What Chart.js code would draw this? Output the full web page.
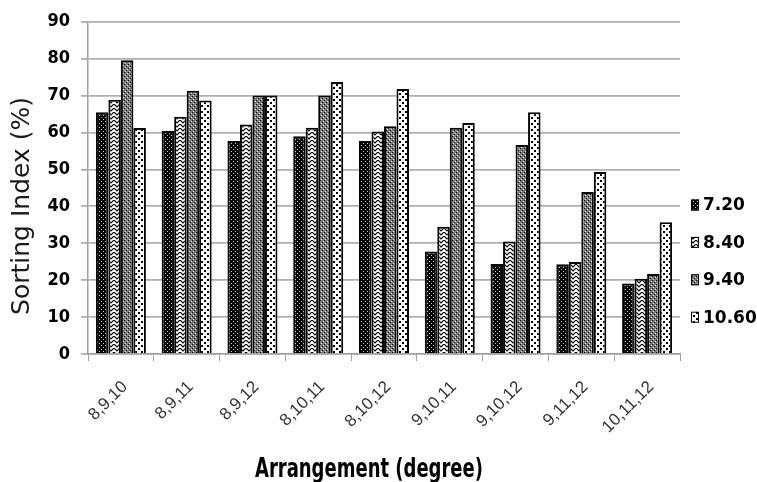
<!DOCTYPE html>
<html>
<head>
<meta charset="utf-8">
<script src="https://cdn.jsdelivr.net/npm/chart.js@4/dist/chart.umd.min.js"></script>
<style>
  body { margin: 0; background: #fff; }
  #wrap { width: 757px; height: 482px; }
</style>
</head>
<body>
<div id="wrap"><canvas id="myChart" width="757" height="482"></canvas></div>
<script>
    // values
    const categories = ['8,9,10', '8,9,11', '8,9,12', '8,10,11', '8,10,12', '9,10,11', '9,10,12', '9,11,12', '10,11,12']
    const seriesNames = ['7.20', '8.40', '9.40', '10.60']
    const s720 = [65.5, 60.4, 57.7, 59.0, 57.7, 27.8, 24.4, 24.3, 19.1]
    const s840 = [68.9, 64.3, 62.2, 61.3, 60.3, 34.5, 30.5, 24.9, 20.4]
    const s940 = [79.6, 71.3, 70.0, 70.0, 61.7, 61.3, 56.6, 43.9, 21.7]
    const s1060 = [61.2, 68.7, 70.0, 73.7, 71.8, 62.6, 65.5, 49.3, 35.7]
    const yTicks = [0, 10, 20, 30, 40, 50, 60, 70, 80, 90]
    const yTitle = 'Sorting Index (%)'
    const xTitle = 'Arrangement (degree)'

    // hatch fills like the old excel patterns
    function makePattern(w, h, draw) {
      let c = document.createElement('canvas')
      c.width = w
      c.height = h
      let g = c.getContext('2d')
      draw(g)
      return g.createPattern(c, 'repeat')
    }

    const PATTERNS = [
      // dark with small light dots
      makePattern(4, 4, g => {
        g.fillStyle = '#000'; g.fillRect(0, 0, 4, 4)
        g.fillStyle = '#d0d0d0'; g.fillRect(1, 1, 1, 1); g.fillRect(3, 3, 1, 1)
      }),
      // white with zigzag
      makePattern(6, 4, g => {
        g.fillStyle = '#fff'; g.fillRect(0, 0, 6, 4)
        g.strokeStyle = '#000'; g.lineWidth = 1.2
        g.beginPath(); g.moveTo(0, 0); g.lineTo(3, 3); g.lineTo(6, 0); g.stroke()
      }),
      // grey diamonds
      makePattern(4, 4, g => {
        g.fillStyle = '#7a7a7a'; g.fillRect(0, 0, 4, 4)
        g.fillStyle = '#000'; g.fillRect(0, 0, 1, 1); g.fillRect(2, 2, 1, 1)
        g.fillStyle = '#e0e0e0'; g.fillRect(1, 3, 1, 1); g.fillRect(3, 1, 1, 1)
      }),
      // white with black blobs
      makePattern(6, 6, g => {
        g.fillStyle = '#fff'; g.fillRect(0, 0, 6, 6)
        g.fillStyle = '#000'; g.fillRect(0, 0, 2, 2); g.fillRect(3, 3, 2, 2)
      })
    ]

    const seriesData = [s720, s840, s940, s1060]
    const datasets = []
    for (let i = 0; i < seriesData.length; i++) {
      datasets.push({
        label: seriesNames[i],
        data: seriesData[i],
        backgroundColor: PATTERNS[i],
        borderColor: '#000',
        borderWidth: 2,
        categoryPercentage: 0.76,
        barPercentage: 1.0
      })
    }

    // axis titles sit off-centre in the original, and the legend is packed tight on the right
    const extras = {
      id: 'extras',
      afterDraw(chart) {
        const ctx = chart.ctx
        ctx.save()
        ctx.fillStyle = '#1a1a1a'
        ctx.font = '25px "DejaVu Sans"'
        ctx.textAlign = 'center'
        ctx.textBaseline = 'middle'
        ctx.translate(22, 206)
        ctx.rotate(-Math.PI / 2)
        ctx.fillText(yTitle, 0, 0)
        ctx.restore()

        ctx.save()
        ctx.fillStyle = '#000'
        ctx.font = 'bold 26px "Liberation Sans Narrow", "DejaVu Sans Condensed", sans-serif'
        ctx.textAlign = 'center'
        ctx.textBaseline = 'alphabetic'
        let w = ctx.measureText(xTitle).width
        ctx.translate(369, 477)
        ctx.scale(228 / w, 1)
        ctx.fillText(xTitle, 0, 0)
        ctx.restore()

        // legend
        ctx.save()
        ctx.font = 'bold 17px "DejaVu Sans"'
        ctx.textAlign = 'left'
        ctx.textBaseline = 'middle'
        for (let i = 0; i < chart.data.datasets.length; i++) {
          let ds = chart.data.datasets[i]
          let cy = 205 + i * 37.4
          ctx.fillStyle = ds.backgroundColor
          ctx.fillRect(691, cy - 5.5, 8, 11)
          ctx.strokeStyle = '#000'
          ctx.lineWidth = 1
          ctx.strokeRect(691.5, cy - 5, 7, 10)
          ctx.fillStyle = '#000'
          ctx.fillText(ds.label, 703, cy + 1)
        }
        ctx.restore()
      }
    }

    const config = {
      type: 'bar',
      data: { labels: categories, datasets: datasets },
      plugins: [extras],
      options: {
        responsive: false,
        animation: false,
        layout: { padding: { top: 20, left: 0, right: 77, bottom: 0 } },
        plugins: {
          tooltip: { enabled: false },
          legend: { display: false }
        },
        scales: {
          x: {
            afterFit: s => { s.height = 128 },
            grid: { offset: true, drawOnChartArea: false, color: '#a0a0a0', tickLength: 7, lineWidth: 1 },
            border: { color: '#a0a0a0', width: 1.5 },
            ticks: {
              minRotation: 45,
              maxRotation: 45,
              padding: 16,
              labelOffset: 4,
              color: '#333',
              font: { family: '"Liberation Sans"', size: 17 }
            }
          },
          y: {
            min: 0,
            max: 90,
            afterFit: s => { s.width = 88 },
            afterBuildTicks: s => { s.ticks = yTicks.map(v => ({ value: v })) },
            grid: { color: '#b0b0b0', lineWidth: 1.8, tickLength: 7 },
            border: { color: '#a0a0a0', width: 1.5 },
            ticks: {
              padding: 11,
              color: '#000',
              font: { family: '"DejaVu Sans Condensed", "DejaVu Sans"', size: 18, weight: 'bold' }
            }
          }
        }
      }
    }

    const myChart = new Chart(document.getElementById('myChart'), config)
</script>
</body>
</html>
